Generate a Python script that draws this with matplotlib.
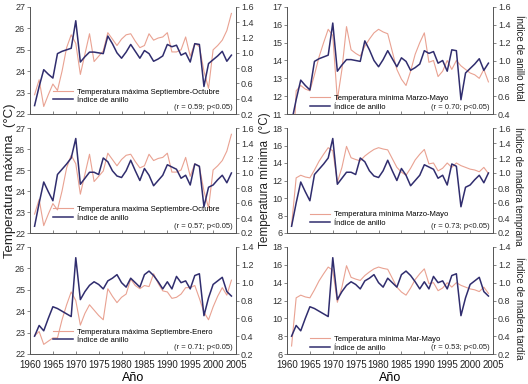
import matplotlib
matplotlib.use('Agg')
import matplotlib.pyplot as plt
from matplotlib.lines import Line2D

plt.rcParams['font.family'] = ['Liberation Sans', 'DejaVu Sans']

years = list(range(1961, 2005))

tmax_sep_oct = [22.9, 23.6, 22.35, 22.9, 23.4, 23.1, 24.0, 25.1, 25.7, 25.3,
                23.85, 24.8, 25.75, 24.45, 24.7, 24.95, 25.8, 25.5, 25.2, 25.5,
                25.7, 25.75, 25.4, 25.1, 25.2, 25.75, 25.45, 25.55, 25.6, 25.8,
                24.9, 24.9, 25.0, 25.6, 24.7, 25.3, 25.15, 24.0, 23.2, 25.0,
                25.2, 25.45, 25.9, 26.7]

tmax_sep_ene = [22.85, 23.05, 22.45, 22.6, 22.75, 22.75, 23.6, 24.3, 24.9, 24.5,
                23.35, 23.9, 24.3, 24.05, 23.8, 23.6, 25.05, 24.7, 24.4, 24.65,
                24.8, 25.5, 25.2, 25.05, 25.2, 25.15, 25.75, 25.3, 24.95, 24.9,
                24.6, 24.65, 24.8, 25.1, 25.1, 25.2, 24.6, 23.95, 23.6, 24.2,
                24.7, 25.1, 24.75, 25.45]

tmin_mar_may = [6.9, 12.3, 12.6, 12.4, 12.3, 13.2, 14.2, 15.0, 15.75, 15.4,
                11.8, 13.5, 15.9, 14.6, 14.4, 14.25, 14.8, 15.2, 15.55, 15.75,
                15.6, 15.5, 14.5, 13.5, 12.95, 12.6, 13.4, 14.35, 15.0, 15.55,
                13.9, 14.0, 13.1, 13.4, 14.0, 13.5, 14.0, 13.7, 13.5, 13.3,
                13.2, 13.0, 13.5, 12.8]

idx_total = [0.31, 0.56, 0.78, 0.72, 0.67, 0.99, 1.02, 1.04, 1.06, 1.42,
             0.88, 0.95, 1.01, 1.01, 1.00, 0.99, 1.22, 1.12, 1.00, 0.93,
             1.01, 1.11, 1.02, 0.93, 1.03, 0.99, 0.89, 0.92, 0.96, 1.11,
             1.08, 1.10, 0.97, 1.00, 0.88, 1.12, 1.11, 0.56, 0.86, 0.91,
             0.96, 1.02, 0.89, 0.97]

idx_early = [0.29, 0.60, 0.88, 0.75, 0.63, 0.98, 1.05, 1.12, 1.20, 1.46,
             0.85, 0.93, 1.01, 1.01, 0.98, 1.20, 1.15, 1.03, 0.96, 0.94,
             1.03, 1.17, 1.03, 0.90, 1.06, 0.97, 0.83, 0.90, 0.97, 1.11,
             1.08, 1.05, 0.93, 0.97, 0.84, 1.12, 1.09, 0.55, 0.81, 0.84,
             0.91, 0.97, 0.87, 1.00]

idx_late = [0.40, 0.52, 0.46, 0.60, 0.73, 0.71, 0.68, 0.65, 0.62, 1.28,
            0.81, 0.90, 0.97, 1.01, 0.98, 0.93, 1.02, 1.05, 1.09, 1.00,
            0.95, 1.05, 1.00, 0.95, 1.09, 1.13, 1.08, 1.01, 0.93, 1.01,
            0.93, 1.07, 1.00, 1.02, 0.93, 1.08, 1.10, 0.63, 0.83, 0.98,
            1.02, 1.06, 0.90, 0.85]

xticks = [1960, 1965, 1970, 1975, 1980, 1985, 1990, 1995, 2000, 2005]

TEMP_C = '#e9a292'
IDX_C = '#302d6e'
W, H = 528.0, 384.0

def rect(x0, y0, x1, y1):
    return [x0 / W, 1 - y1 / H, (x1 - x0) / W, (y1 - y0) / H]

LX = (30, 236)
RX = (287, 493)
ROWS = [(7, 114), (128, 233), (247, 354)]

panels = [
    dict(x=LX, row=0, temp=tmax_sep_oct, idx=idx_total, tlim=(22, 27), tticks=[22, 23, 24, 25, 26, 27],
         ilim=(0.2, 1.6), iticks=[0.2, 0.4, 0.6, 0.8, 1.0, 1.2, 1.4, 1.6],
         tlab='Temperatura máxima Septiembre-Octubre', r='(r = 0.59; p<0.05)', leg=0.24,
         rlab=None, rlab_y=None),
    dict(x=LX, row=1, temp=tmax_sep_oct, idx=idx_early, tlim=(22, 27), tticks=[22, 23, 24, 25, 26, 27],
         ilim=(0.2, 1.6), iticks=[0.2, 0.4, 0.6, 0.8, 1.0, 1.2, 1.4, 1.6],
         tlab='Temperatura maxima Septiembre-Octubre', r='(r = 0.57; p<0.05)', leg=0.26,
         rlab=None, rlab_y=None),
    dict(x=LX, row=2, temp=tmax_sep_ene, idx=idx_late, tlim=(22, 27), tticks=[22, 23, 24, 25, 26, 27],
         ilim=(0.2, 1.4), iticks=[0.2, 0.4, 0.6, 0.8, 1.0, 1.2, 1.4],
         tlab='Temperatura máxima Septiembre-Enero', r='(r = 0.71; p<0.05)', leg=0.24,
         rlab=None, rlab_y=None),
    dict(x=RX, row=0, temp=tmin_mar_may, idx=idx_total, tlim=(11, 17), tticks=[11, 12, 13, 14, 15, 16, 17],
         ilim=(0.4, 1.6), iticks=[0.4, 0.6, 0.8, 1.0, 1.2, 1.4, 1.6],
         tlab='Temperatura mínima Marzo-Mayo', r='(r = 0.70; p<0.05)', leg=0.18,
         rlab='Índice de anillo total', rlab_y=58),
    dict(x=RX, row=1, temp=tmin_mar_may, idx=idx_early, tlim=(6, 18), tticks=[6, 8, 10, 12, 14, 16, 18],
         ilim=(0.2, 1.6), iticks=[0.2, 0.4, 0.6, 0.8, 1.0, 1.2, 1.4, 1.6],
         tlab='Temperatura mínima Marzo-Mayo', r='(r = 0.73; p<0.05)', leg=0.21,
         rlab='Índice de madera temprana', rlab_y=186),
    dict(x=RX, row=2, temp=tmin_mar_may, idx=idx_late, tlim=(6, 18), tticks=[6, 8, 10, 12, 14, 16, 18],
         ilim=(0.2, 1.4), iticks=[0.2, 0.4, 0.6, 0.8, 1.0, 1.2, 1.4],
         tlab='Temperatura mínima Mar-Mayo', r='(r = 0.53; p<0.05)', leg=0.17,
         rlab='Índice de madera tardía', rlab_y=308),
]

fig = plt.figure(figsize=(W / 100, H / 100), dpi=100)

for p in panels:
    y0, y1 = ROWS[p['row']]
    ax = fig.add_axes(rect(p['x'][0], y0, p['x'][1], y1))
    ax2 = ax.twinx()
    ax.plot(years, p['temp'], color=TEMP_C, lw=0.8)
    ax2.plot(years, p['idx'], color=IDX_C, lw=1.1)
    ax.set_xlim(1960, 2005)
    ax.set_ylim(*p['tlim'])
    ax.set_yticks(p['tticks'])
    ax2.set_ylim(*p['ilim'])
    ax2.set_yticks(p['iticks'])
    ax2.set_yticklabels(['%.1f' % v for v in p['iticks']])
    ax.set_xticks(xticks)
    if p['row'] == 2:
        ax.set_xticklabels([str(v) for v in xticks])
        ax.set_xlabel('Año', fontsize=9, labelpad=2)
    else:
        ax.set_xticklabels([])
    for a in (ax, ax2):
        a.spines['top'].set_visible(False)
        for s in a.spines.values():
            s.set_linewidth(0.6)
            s.set_color('#555555')
    ax.tick_params(axis='x', direction='in', length=2, width=0.5, labelsize=7, pad=4, colors='#555555', labelcolor='#222222')
    ax.tick_params(axis='y', direction='out', length=2.5, width=0.5, labelsize=6.5, pad=1, colors='#555555', labelcolor='#333333')
    ax2.tick_params(axis='y', direction='out', length=2.5, width=0.5, labelsize=6.5, pad=1, colors='#555555', labelcolor='#333333')
    handles = [Line2D([], [], color=TEMP_C, lw=0.8), Line2D([], [], color=IDX_C, lw=1.1)]
    ax.legend(handles, [p['tlab'], 'Índice de anillo'], loc='upper left',
              bbox_to_anchor=(0.11, p['leg']), frameon=False, fontsize=5.5,
              handlelength=2.6, handletextpad=0.6, borderpad=0, borderaxespad=0,
              labelspacing=0.15)
    ax.text(0.985, 0.03, p['r'], transform=ax.transAxes, ha='right', va='bottom',
            fontsize=5.5, color='#222222')
    yc = 1 - (y0 + y1) / 2 / H
    if p['rlab']:
        fig.text(519 / W, 1 - p['rlab_y'] / H, p['rlab'], rotation=-90, fontsize=7,
                 ha='center', va='center', color='#222222')
    if p['row'] == 1:
        if p['x'] == LX:
            fig.text(10 / W, yc, 'Temperatura máxima  (°C)', rotation=90, fontsize=9.5,
                     ha='center', va='center', color='#222222')
        else:
            fig.text(265 / W, yc, 'Temperatura mínima  (°C)', rotation=90, fontsize=8.5,
                     ha='center', va='center', color='#222222')

fig.savefig('out.png', dpi=100)
